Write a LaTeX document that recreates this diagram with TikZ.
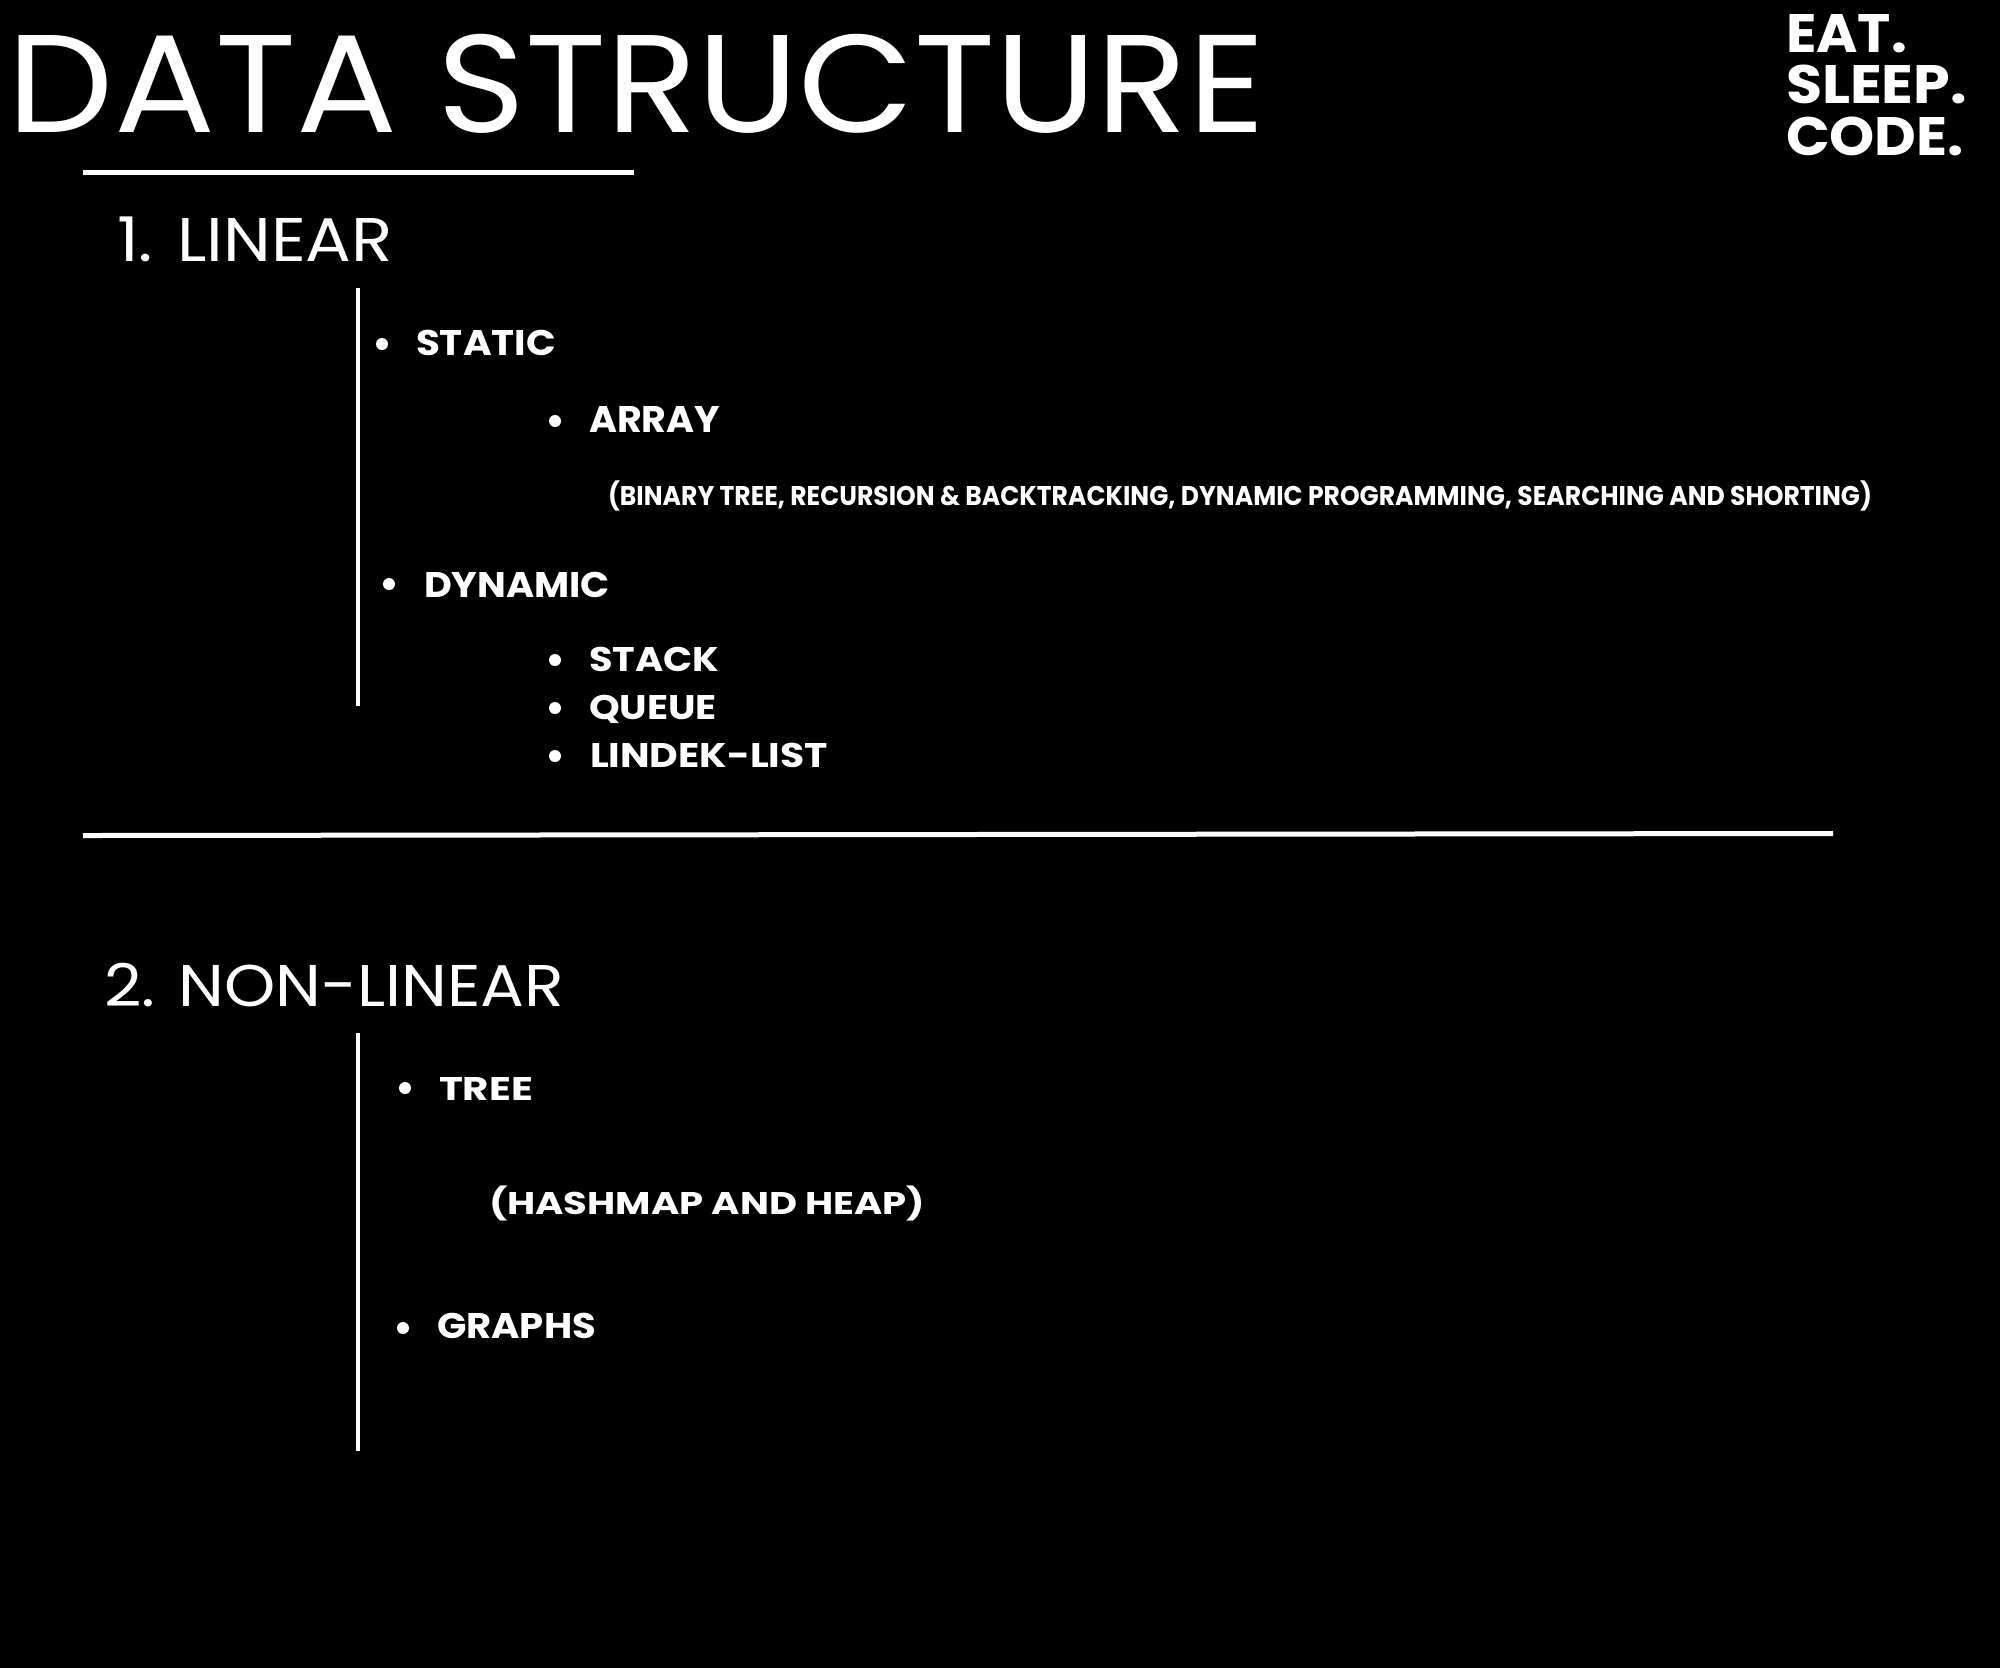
\documentclass[tikz,border=0pt]{standalone}
\usepackage{fontspec}
\usepackage{graphicx}
\setmainfont{Poppins}
\newsavebox\fitA
\newsavebox\fitB
% #1 font switch, #2 target width, #3 target cap height, #4 text
\newcommand\fittext[4]{\sbox\fitA{#1#4}\sbox\fitB{#1H}%
  \scalebox{\fpeval{(#2)/(\the\wd\fitA)}}[\fpeval{(#3)/(\the\ht\fitB)}]{\usebox\fitA}}
\begin{document}
\begin{tikzpicture}[x=0.5pt,y=-0.5pt,
  txt/.style={anchor=base west,inner sep=0pt,outer sep=0pt,text=white},
  dot/.style={circle,fill=white,inner sep=0pt,minimum size=6pt},
  rule/.style={draw=white,line width=2.5pt},
  vrule/.style={draw=white,line width=2.3pt}]
\useasboundingbox (0,0) rectangle (2000,1667);
\fill[black] (-20,-20) rectangle (2020,1687);
% title and logo
\node[txt] (title) at (8,132) {\fittext{}{628.5pt}{48.5pt}{DATA STRUCTURE}};
\node[txt] (eat) at (1786,52) {\fittext{\bfseries}{60.5pt}{19pt}{EAT.}};
\node[txt] (sleep) at (1786,103.5) {\fittext{\bfseries}{90.5pt}{19pt}{SLEEP.}};
\node[txt] (code) at (1786,155) {\fittext{\bfseries}{89pt}{19pt}{CODE.}};
% rules
\coordinate (r1a) at (83,172);
\coordinate (r1b) at (634,172);
\draw[rule] (r1a) -- (r1b);
\coordinate (r2a) at (83,835.5);
\coordinate (r2b) at (1833,833.5);
\draw[rule] (r2a) -- (r2b);
% section 1
\node[txt] (linear) at (117,261) {\fittext{}{138pt}{21.5pt}{1. LINEAR}};
\coordinate (v1a) at (358,288);
\coordinate (v1b) at (358,706);
\draw[vrule] (v1a) -- (v1b);
\node[dot] (bstatic) at (382,344) {};
\node[txt] (static) at (416,355) {\fittext{\bfseries}{70pt}{12.5pt}{STATIC}};
\node[dot] (barray) at (555,421) {};
\node[txt] (array) at (589,432) {\fittext{\bfseries}{65.5pt}{13pt}{ARRAY}};
\node[txt] (note1) at (608,505) {\fittext{\bfseries}{632pt}{9.5pt}{(BINARY TREE, RECURSION \& BACKTRACKING, DYNAMIC PROGRAMMING, SEARCHING AND SHORTING)}};
\node[dot] (bdynamic) at (389,584) {};
\node[txt] (dynamic) at (424,597) {\fittext{\bfseries}{93pt}{12.5pt}{DYNAMIC}};
\node[dot] (bstack) at (555,660) {};
\node[txt] (stack) at (589,671) {\fittext{\bfseries}{65pt}{12pt}{STACK}};
\node[dot] (bqueue) at (555,708) {};
\node[txt] (queue) at (589,719) {\fittext{\bfseries}{64pt}{12pt}{QUEUE}};
\node[dot] (blist) at (555,756) {};
\node[txt] (list) at (590,767) {\fittext{\bfseries}{119pt}{12pt}{LINDEK-LIST}};
% section 2
\node[txt] (nonlinear) at (104,1006) {\fittext{}{230pt}{20.5pt}{2. NON-LINEAR}};
\coordinate (v2a) at (358,1033);
\coordinate (v2b) at (358,1451);
\draw[vrule] (v2a) -- (v2b);
\node[dot] (btree) at (405,1088) {};
\node[txt] (tree) at (439,1100) {\fittext{\bfseries}{47pt}{11.5pt}{TREE}};
\node[txt] (note2) at (489,1214) {\fittext{\bfseries}{218pt}{11pt}{(HASHMAP AND HEAP)}};
\node[dot] (bgraphs) at (403,1328) {};
\node[txt] (graphs) at (437,1338) {\fittext{\bfseries}{79.5pt}{12.5pt}{GRAPHS}};
\end{tikzpicture}
\end{document}
